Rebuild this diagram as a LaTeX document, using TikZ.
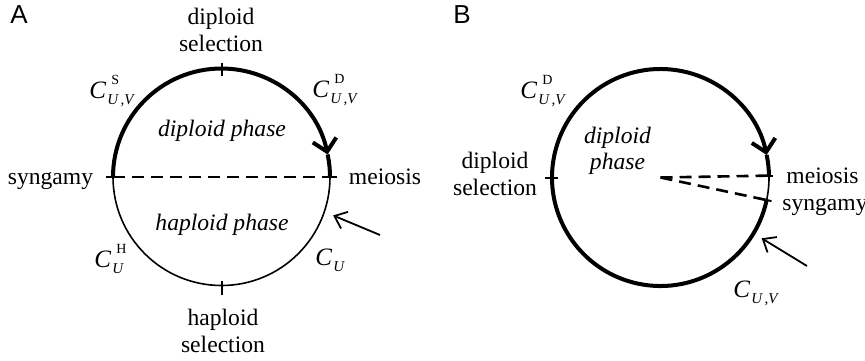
\documentclass[tikz,border=0pt]{standalone}
\usepackage{fontspec}
\setmainfont{Liberation Serif}
\newfontfamily\labfont{Liberation Sans}
\usetikzlibrary{arrows.meta}
\newcommand{\Clab}[2]{\textit{C}\kern0.5pt\rlap{\kern2pt\raisebox{7pt}{\fontsize{7}{8}\selectfont #1}}\raisebox{-3pt}{\fontsize{7.5}{8}\selectfont\textit{#2}}}
\begin{document}
\begin{tikzpicture}[x=0.5pt,y=0.5pt,
  thickarc/.style={line width=2pt},
  thinarc/.style={line width=0.8pt},
  dashline/.style={line width=1.3pt, dash pattern=on 6pt off 3.5pt},
  tickline/.style={line width=1pt},
  bigarrow/.style={-{Straight Barb[length=6pt,width=12pt]}},
  pointer/.style={line width=0.9pt,-{Straight Barb[length=5.5pt,width=9pt]}},
  txt/.style={font=\fontsize{11.8}{13.5}\selectfont, inner sep=0pt, align=center},
  itxt/.style={font=\fontsize{11.8}{13}\selectfont\itshape, inner sep=0pt, align=center},
  clab/.style={font=\fontsize{12.5}{14}\selectfont, inner sep=0pt, anchor=base west},
  panel/.style={font=\labfont\fontsize{13}{14}\selectfont, inner sep=0pt, anchor=base west}]
\useasboundingbox (0,0) rectangle (865,-360);
% ---------- Panel A ----------
\coordinate (cA) at (221.5,-177);
\coordinate (syA) at ([shift={(180:54.25pt)}]cA);
\coordinate (meA) at ([shift={(0:54.25pt)}]cA);
\coordinate (topA) at ([shift={(90:54.25pt)}]cA);
\coordinate (botA) at ([shift={(270:54.25pt)}]cA);
\coordinate (tipA) at ([shift={(12:54.25pt)}]cA);
\coordinate (ptA) at ([shift={(-19:59pt)}]cA);
\coordinate (ptAs) at (380,-235);
\draw[thinarc] (syA) arc[start angle=180, end angle=360, radius=54.25pt];
\draw[thickarc, bigarrow] (syA) arc[start angle=180, end angle=12, radius=54.25pt];
\draw[thickarc] (tipA) arc[start angle=12, end angle=0, radius=54.25pt];
\draw[dashline] (syA) -- (meA);
\draw[tickline] ([xshift=-3.5pt]syA) -- ([xshift=3pt]syA);
\draw[tickline] ([xshift=-3.5pt]meA) -- ([xshift=3.5pt]meA);
\draw[tickline] ([yshift=3pt]topA) -- ([yshift=-3.5pt]topA);
\draw[tickline] ([yshift=2.5pt]botA) -- ([yshift=-4.5pt]botA);
\draw[pointer] (ptAs) -- (ptA);
\node[panel] (labA) at (10,-23) {A};
\node[txt] (dselA) at (221,-30) {diploid\\selection};
\node[txt] (hselA) at (223,-331) {haploid\\selection};
\node[txt, anchor=base] (syngA) at (50.5,-184) {syngamy};
\node[txt, anchor=base] (meiA) at (385,-184) {meiosis};
\node[itxt, anchor=base] (dphA) at (222,-136) {diploid phase};
\node[itxt, anchor=base] (hphA) at (222,-230) {haploid phase};
\node[clab] (csA) at (89,-98) {\Clab{S}{U\,,V}};
\node[clab] (cdA) at (312,-97) {\Clab{D}{U\,,V}};
\node[clab] (chA) at (94,-267) {\Clab{H}{U}};
\node[clab] (cuA) at (315,-265) {\Clab{}{U}};
% ---------- Panel B ----------
\coordinate (cB) at (660.5,-177.5);
\coordinate (dsB) at ([shift={(180:54.25pt)}]cB);
\coordinate (meB) at ([shift={(1:54.25pt)}]cB);
\coordinate (syB) at ([shift={(-12:54.25pt)}]cB);
\coordinate (tipB) at ([shift={(12:54.25pt)}]cB);
\coordinate (ptB) at ([shift={(-31:59pt)}]cB);
\coordinate (ptBs) at (807,-266);
\draw[thinarc] (meB) arc[start angle=1, end angle=-12, radius=54.25pt];
\draw[thickarc, bigarrow] (syB) arc[start angle=348, end angle=12, radius=54.25pt];
\draw[thickarc] (tipB) arc[start angle=12, end angle=1, radius=54.25pt];
\draw[dashline] (cB) -- (meB);
\draw[dashline] (cB) -- (syB);
\draw[tickline] ([xshift=-3.5pt]dsB) -- ([xshift=3pt]dsB);
\draw[tickline] ([xshift=-5pt]meB) -- ([xshift=2pt]meB);
\draw[tickline] ([shift={(-12:-4pt)}]syB) -- ([shift={(-12:2.5pt)}]syB);
\draw[pointer] (ptBs) -- (ptB);
\node[panel] (labB) at (453,-23) {B};
\node[itxt] (dphB) at (617.5,-151) {diploid\\phase};
\node[txt] (dselB) at (495,-174) {diploid\\selection};
\node[txt, anchor=base] (meiB) at (822.5,-183) {meiosis};
\node[txt, anchor=base west] (syngB) at (782,-210) {syngamy};
\node[clab] (cdB) at (520,-98) {\Clab{D}{U\,,V}};
\node[clab] (cuvB) at (733,-297) {\Clab{}{U\,,V}};
\end{tikzpicture}
\end{document}
